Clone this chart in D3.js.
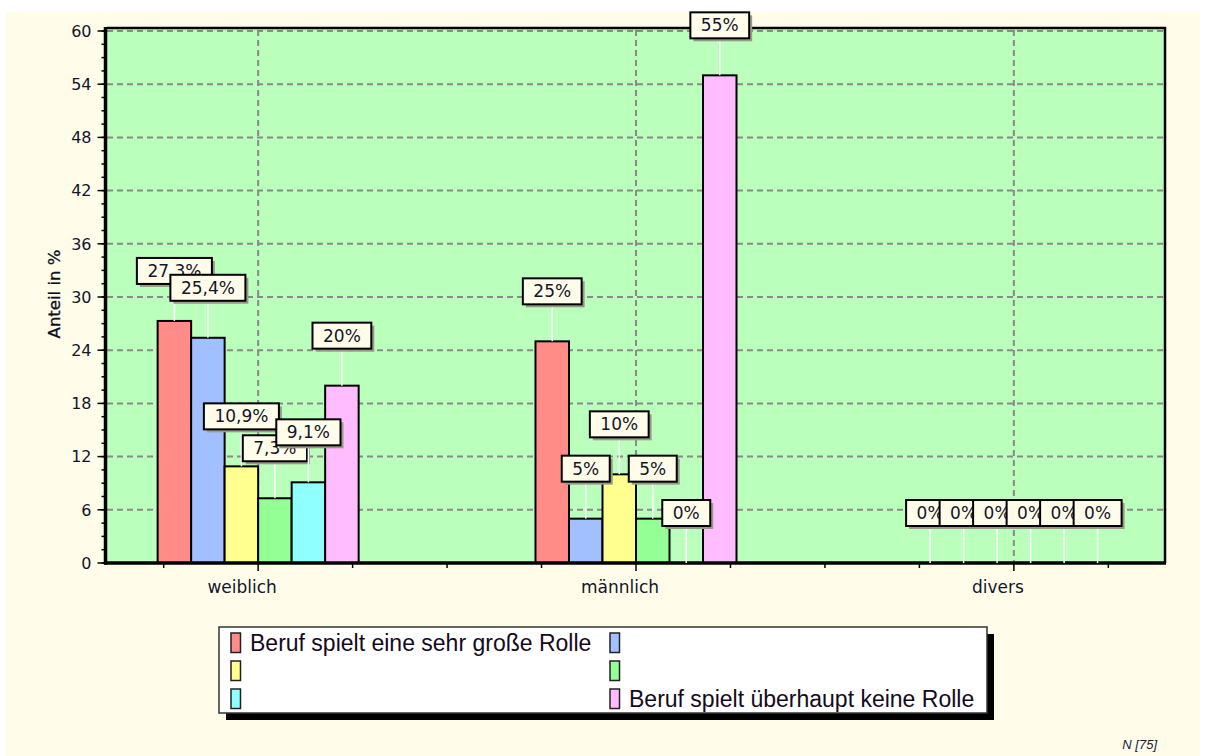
<!DOCTYPE html>
<html>
<head>
<meta charset="utf-8">
<script src="https://cdn.jsdelivr.net/npm/d3@7"></script>
<style>
  html, body { margin: 0; padding: 0; background: #ffffff; }
  svg { display: block; }
</style>
</head>
<body>
<svg id="chart" width="1212" height="756"></svg>
<script>
// Categories (gender) and answer series
const categories = ["weiblich", "männlich", "divers"];
const seriesNames = [
  "Beruf spielt eine sehr große Rolle",
  "",
  "",
  "",
  "",
  "Beruf spielt überhaupt keine Rolle"
];
const seriesColors = ["#ff8c86", "#a2c0ff", "#ffff8f", "#94ff94", "#90ffff", "#ffbcff"];

// Share in percent per series, one entry per category
const values = [
  [27.3, 25.0, 0],
  [25.4, 5, 0],
  [10.9, 10, 0],
  [7.3, 5, 0],
  [9.1, 0, 0],
  [20, 55, 0]
];
const valueLabels = [
  ["27,3%", "25%", "0%"],
  ["25,4%", "5%", "0%"],
  ["10,9%", "10%", "0%"],
  ["7,3%", "5%", "0%"],
  ["9,1%", "0%", "0%"],
  ["20%", "55%", "0%"]
];
const yMajorTicks = [0, 6, 12, 18, 24, 30, 36, 42, 48, 54, 60];
const yAxisTitle = "Anteil in %";
const footnote = "N [75]";

const svg = d3.select("#chart");

// Page background
svg.append("rect").attr("x", 6).attr("y", 12).attr("width", 1194).attr("height", 744)
  .attr("fill", "#fffde9");

// Plot frame
const plot = { left: 107, right: 1165, top: 28, bottom: 563 };

const y = d3.scaleLinear().domain([0, 60]).range([563, 31]);
const x = d3.scalePoint().domain(categories).range([plot.left, plot.right]).padding(0.4);
const step = x.step();
const xSub = d3.scaleBand().domain(d3.range(seriesNames.length))
  .range([-step * 0.266, step * 0.266]).paddingInner(0);

svg.append("rect")
  .attr("x", plot.left).attr("y", plot.top)
  .attr("width", plot.right - plot.left).attr("height", plot.bottom - plot.top)
  .attr("fill", "#bbffbd");

// Grid lines
const grid = svg.append("g").attr("stroke", "#8a8a8a").attr("stroke-width", 2)
  .attr("stroke-dasharray", "6,4").attr("fill", "none");
grid.selectAll("line.h").data(yMajorTicks.filter(d => d > 0)).join("line")
  .attr("class", "h")
  .attr("x1", plot.left).attr("x2", plot.right)
  .attr("y1", d => y(d)).attr("y2", d => y(d));
grid.selectAll("line.v").data(categories).join("line")
  .attr("class", "v")
  .attr("x1", d => x(d)).attr("x2", d => x(d))
  .attr("y1", plot.top + 2).attr("y2", plot.bottom);

// Top and right border
svg.append("path")
  .attr("d", `M${plot.left},${plot.top}H${plot.right}V${plot.bottom}`)
  .attr("fill", "none").attr("stroke", "#000").attr("stroke-width", 2.5);

// Bars
const barData = [];
values.forEach((row, s) => row.forEach((v, c) => barData.push({ s, c, v, label: valueLabels[s][c] })));

svg.append("g").selectAll("rect").data(barData.filter(d => d.v > 0)).join("rect")
  .attr("x", d => x(categories[d.c]) + xSub(d.s))
  .attr("y", d => y(d.v))
  .attr("width", xSub.bandwidth())
  .attr("height", d => y(0) - y(d.v))
  .attr("fill", d => seriesColors[d.s])
  .attr("stroke", "#000").attr("stroke-width", 2);

// Y axis
const yMinor = d3.range(0, 60.01, 1.5);
const yAxisG = svg.append("g").attr("transform", `translate(${plot.left - 1.5},0)`);
yAxisG.selectAll("line.minor").data(yMinor).join("line")
  .attr("x1", -4).attr("x2", 0).attr("y1", d => y(d)).attr("y2", d => y(d))
  .attr("stroke", "#000").attr("stroke-width", 1.5);
yAxisG.selectAll("line.major").data(yMajorTicks).join("line")
  .attr("x1", -8).attr("x2", 0).attr("y1", d => y(d)).attr("y2", d => y(d))
  .attr("stroke", "#000").attr("stroke-width", 1.5);
yAxisG.selectAll("text").data(yMajorTicks).join("text")
  .attr("x", -14).attr("y", d => y(d)).attr("dy", "0.36em")
  .attr("text-anchor", "end")
  .attr("font-family", "DejaVu Sans, Verdana, sans-serif").attr("font-size", 16)
  .attr("fill", "#14142a")
  .text(d => d);
svg.append("line").attr("x1", plot.left - 1.5).attr("x2", plot.left - 1.5)
  .attr("y1", plot.top - 1).attr("y2", plot.bottom + 1.5)
  .attr("stroke", "#000").attr("stroke-width", 3.5);

svg.append("text")
  .attr("transform", `translate(60,294) rotate(-90)`)
  .attr("text-anchor", "middle")
  .attr("font-family", "DejaVu Sans, Verdana, sans-serif").attr("font-size", 16.5)
  .attr("fill", "#0e0e20")
  .attr("stroke", "#0e0e20").attr("stroke-width", 0.3)
  .text(yAxisTitle);

// X axis: ticks every quarter step, longer ones at category centres
const xTicks = d3.range(-1, 4 * (categories.length - 1) + 3)
  .map(k => ({ pos: x(categories[0]) + k * step / 4, major: k % 4 === 0 }))
  .filter(t => t.pos > plot.left + 2 && t.pos < plot.right - 2);
svg.append("g").selectAll("line").data(xTicks).join("line")
  .attr("x1", d => d.pos).attr("x2", d => d.pos)
  .attr("y1", plot.bottom).attr("y2", d => plot.bottom + (d.major ? 8 : 5))
  .attr("stroke", "#000").attr("stroke-width", 1.5);
svg.append("line").attr("x1", plot.left - 3).attr("x2", plot.right + 1)
  .attr("y1", plot.bottom).attr("y2", plot.bottom)
  .attr("stroke", "#000").attr("stroke-width", 3.5);

svg.append("g").selectAll("text").data(categories).join("text")
  .attr("x", d => x(d) - 16).attr("y", 593)
  .attr("text-anchor", "middle")
  .attr("font-family", "DejaVu Sans, Verdana, sans-serif").attr("font-size", 17)
  .attr("fill", "#14142a")
  .text(d => d);

// Value labels: boxed text above each bar with a white leader line
const labelOrder = [];
categories.forEach((c, ci) => seriesNames.forEach((s, si) => labelOrder.push(barData.find(d => d.c === ci && d.s === si))));
const labelG = svg.append("g");
labelOrder.forEach(d => {
  const cx = x(categories[d.c]) + xSub(d.s) + xSub.bandwidth() / 2;
  const top = y(d.v);
  const boxBottom = top - 37;
  const boxH = 26;
  const g = labelG.append("g");
  g.append("line").attr("x1", cx).attr("x2", cx).attr("y1", boxBottom).attr("y2", top)
    .attr("stroke", "#ffffff").attr("stroke-width", 1.5);
  const t = g.append("text")
    .attr("x", cx).attr("y", boxBottom - boxH / 2).attr("dy", "0.36em")
    .attr("text-anchor", "middle")
    .attr("font-family", "DejaVu Sans, Verdana, sans-serif").attr("font-size", 17)
    .attr("fill", "#14142a")
    .text(d.label);
  const w = t.node().getComputedTextLength() + 21;
  g.insert("rect", "text").attr("x", cx - w / 2 + 3).attr("y", boxBottom - boxH + 3)
    .attr("width", w).attr("height", boxH).attr("fill", "#9a9a8a");
  g.insert("rect", "text").attr("x", cx - w / 2).attr("y", boxBottom - boxH)
    .attr("width", w).attr("height", boxH)
    .attr("fill", "#fffde9").attr("stroke", "#000").attr("stroke-width", 2);
});

// Legend
const legend = { x: 219, y: 627, w: 768, h: 86 };
svg.append("rect").attr("x", legend.x + 7).attr("y", legend.y + 7)
  .attr("width", legend.w).attr("height", legend.h).attr("fill", "#000");
svg.append("rect").attr("x", legend.x).attr("y", legend.y)
  .attr("width", legend.w).attr("height", legend.h)
  .attr("fill", "#ffffff").attr("stroke", "#333").attr("stroke-width", 1.5);
const legItems = svg.append("g").selectAll("g").data(seriesNames).join("g")
  .attr("transform", (d, i) => `translate(${i % 2 === 0 ? 231 : 610},${633 + Math.floor(i / 2) * 28})`);
legItems.append("rect").attr("width", 9.5).attr("height", 19.5)
  .attr("fill", (d, i) => seriesColors[i]).attr("stroke", "#222").attr("stroke-width", 1.5);
legItems.append("text").attr("x", 19).attr("y", 17.5)
  .attr("font-family", "Liberation Sans, Arial, sans-serif").attr("font-size", 23)
  .attr("fill", "#140a20")
  .text(d => d);

// Sample size note
svg.append("text").attr("x", 1157).attr("y", 749).attr("text-anchor", "end")
  .attr("font-family", "Liberation Sans, Arial, sans-serif").attr("font-size", 13)
  .attr("font-style", "italic").attr("fill", "#1a1a3a")
  .text(footnote);
</script>
</body>
</html>
